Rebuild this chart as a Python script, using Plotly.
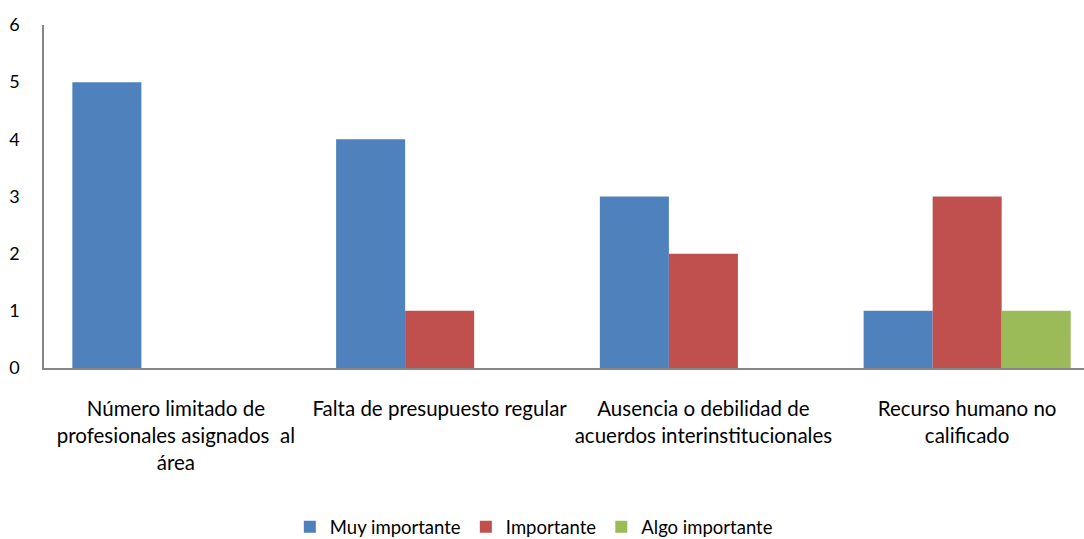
import plotly.graph_objects as go

categories = [
    "Número limitado de<br>profesionales asignados  al<br>área",
    "Falta de presupuesto regular",
    "Ausencia o debilidad de<br>acuerdos interinstitucionales",
    "Recurso humano no<br>calificado",
]
series_names = ["Muy importante", "Importante", "Algo importante"]
muy_importante = [5, 4, 3, 1]
importante = [0, 1, 2, 3]
algo_importante = [0, 0, 0, 1]
colors = ["#4F81BD", "#C0504D", "#9BBB59"]

font_family = "Lato, Calibri, Carlito, sans-serif"

fig = go.Figure()
for name, vals, col in zip(series_names, [muy_importante, importante, algo_importante], colors):
    fig.add_trace(go.Bar(
        x=list(range(len(categories))), y=vals, name=name,
        marker=dict(color=col, line=dict(width=0)),
    ))

fig.update_layout(
    width=1084, height=539,
    barmode="group", bargap=0.215, bargroupgap=0,
    plot_bgcolor="white", paper_bgcolor="white",
    margin=dict(l=44, r=0, t=25, b=171, autoexpand=False),
    font=dict(family=font_family, size=18, color="#000000"),
    showlegend=True,
    legend=dict(orientation="h", x=0.471, xanchor="center", y=-0.464, yanchor="middle",
                font=dict(size=18.5), itemwidth=30, traceorder="normal"),
)
fig.update_xaxes(
    tickmode="array", tickvals=list(range(len(categories))), ticktext=categories,
    range=[-0.5, 3.443], showline=True, linecolor="#868686", linewidth=1.5,
    showgrid=False, ticks="", ticklabelstandoff=22, tickangle=0,
    tickfont=dict(size=20.5), automargin=False,
)
fig.update_yaxes(
    range=[0, 6], dtick=1, showline=True, linecolor="#868686", linewidth=1.5,
    showgrid=False, ticks="", zeroline=False, ticklabelstandoff=19,
    tickfont=dict(size=18), automargin=False,
)
fig.write_html(
    "out.html",
    config={"displayModeBar": False},
    post_script="document.body.style.margin='0px'; document.body.style.overflow='hidden';",
)
